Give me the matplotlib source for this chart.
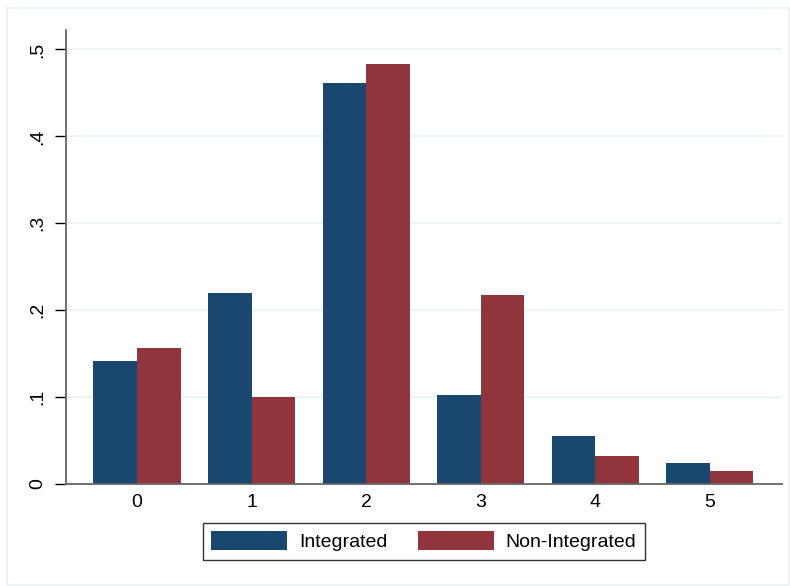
import numpy as np
import matplotlib as mpl
mpl.use("Agg")
import matplotlib.pyplot as plt
from matplotlib.patches import Rectangle

plt.rcParams['font.family'] = ['Liberation Sans', 'DejaVu Sans']

cats = [0, 1, 2, 3, 4, 5]
integrated = [0.141, 0.2195, 0.461, 0.102, 0.055, 0.024]
non_integrated = [0.156, 0.100, 0.483, 0.217, 0.032, 0.015]
yticks = [0, 0.1, 0.2, 0.3, 0.4, 0.5]
ylabels = ['0', '.1', '.2', '.3', '.4', '.5']

navy = '#1a476f'
maroon = '#90353b'
grid_c = '#eaf2f3'
axis_c = '#666666'

fig = plt.figure(figsize=(7.9, 5.86), dpi=100)
fig.patches.append(Rectangle((7/790, 1/586), 782/790, 577/586, transform=fig.transFigure,
                             fill=False, edgecolor=grid_c, linewidth=1.2))
ax = fig.add_axes([66/790, 102/586, 716/790, 454/586])

x = np.arange(len(cats))
w = 0.38
ax.bar(x - w/2, integrated, w, color=navy, label='Integrated', zorder=3)
ax.bar(x + w/2, non_integrated, w, color=maroon, label='Non-Integrated', zorder=3)

ax.set_xlim(-0.62, 5.63)
ax.set_ylim(0, 0.5224)
ax.set_yticks(yticks)
ax.set_yticklabels(ylabels, rotation=90, va='center')
ax.set_xticks(x)
ax.set_xticklabels([str(c) for c in cats])
ax.tick_params(axis='x', length=0, labelsize=14, pad=7)
ax.tick_params(axis='y', length=8, width=1, color='black', labelsize=14, pad=6)
for yv in yticks[1:]:
    ax.axhline(yv, color=grid_c, linewidth=1.2, zorder=1)

for s in ['top', 'right']:
    ax.spines[s].set_visible(False)
for s in ['left', 'bottom']:
    ax.spines[s].set_color(axis_c)
    ax.spines[s].set_linewidth(1.3)
    ax.spines[s].set_zorder(4)

leg = ax.legend(loc='upper center', bbox_to_anchor=(0.5, -0.085), ncol=2, frameon=True,
                fancybox=False, edgecolor='black', fontsize=14, handlelength=3.9,
                handleheight=1.1, columnspacing=1.6, handletextpad=0.6, borderpad=0.45,
                borderaxespad=0)
leg.get_frame().set_linewidth(1.0)

plt.savefig('out.png', dpi=100)
